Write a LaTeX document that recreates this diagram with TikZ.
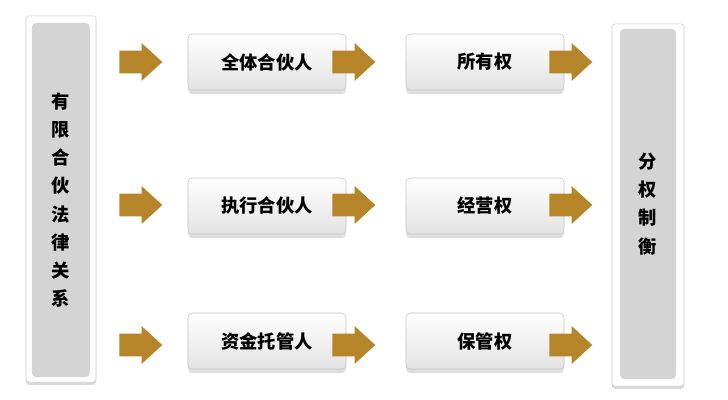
\documentclass[tikz,border=0pt]{standalone}
\usepackage{fontspec}
\newfontfamily\cjk{Noto Sans CJK SC}
\usetikzlibrary{shapes.arrows, shadows}

\definecolor{arrowgold}{RGB}{182,133,42}
\definecolor{panelgray}{RGB}{212,212,212}

\tikzset{
  rolebox/.style={draw=gray!45, rounded corners=3pt, top color=white, bottom color=gray!22,
    minimum width=3.95cm, minimum height=1.4cm, font=\cjk\bfseries\fontsize{13}{15}\selectfont,
    drop shadow={shadow xshift=0pt, shadow yshift=-3pt, opacity=0.25}},
  sideframe/.style={draw=gray!40, fill=white, rounded corners=2pt,
    drop shadow={shadow xshift=0pt, shadow yshift=-2pt, opacity=0.3}},
  sidepanel/.style={fill=panelgray, rounded corners=3pt, align=center,
    font=\cjk\bfseries\fontsize{13}{20}\selectfont},
  goldarrow/.style={single arrow, fill=arrowgold, inner xsep=0pt, inner ysep=0.275cm,
    minimum height=1.075cm, single arrow head extend=0.19cm, single arrow tip angle=85,
    anchor=west}
}

\begin{document}
\begin{tikzpicture}[x=0.025cm, y=-0.025cm]
    \useasboundingbox (0,0) rectangle (728,400);

    % left: legal relation
    \node[sideframe, minimum width=1.75cm, minimum height=9.15cm] (lawframe) at (61,199) {};
    \node[sidepanel, minimum width=1.45cm, minimum height=8.85cm] (law) at (61,200)
        {有\\限\\合\\伙\\法\\律\\关\\系};

    % right: checks and balances
    \node[sideframe, minimum width=1.8cm, minimum height=9.05cm] (balframe) at (648,205) {};
    \node[sidepanel, minimum width=1.4cm, minimum height=8.75cm] (bal) at (648,204)
        {分\\权\\制\\衡};

    % partners
    \node[rolebox] (all) at (267,62) {全体合伙人};
    \node[rolebox] (exec) at (267,206) {执行合伙人};
    \node[rolebox] (cust) at (267,341) {资金托管人};

    % rights
    \node[rolebox] (own) at (485,62) {所有权};
    \node[rolebox] (op) at (485,206) {经营权};
    \node[rolebox] (keep) at (485,341) {保管权};

    % arrows
    \foreach \y in {62,205,345} {
        \node[goldarrow] at (119,\y) {};
        \node[goldarrow] at (332,\y) {};
        \node[goldarrow] at (549,\y) {};
    }
\end{tikzpicture}
\end{document}
